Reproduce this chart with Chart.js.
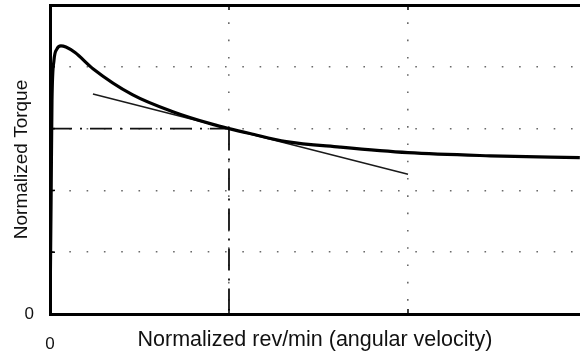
<!DOCTYPE html>
<html>
<head>
<meta charset="utf-8">
<script src="https://cdn.jsdelivr.net/npm/chart.js@4/dist/chart.umd.min.js"></script>
<style>
  html, body { margin: 0; padding: 0; background: #fff; overflow: hidden; }
  #wrap { width: 580px; height: 358px; position: relative; }
</style>
</head>
<body>
<div id="wrap"><canvas id="c" width="580" height="358"></canvas></div>
<script>
// ---- data ----
const curveX = [0, 0.006, 0.011, 0.022, 0.039, 0.061, 0.089, 0.14, 0.24, 0.46, 0.69, 0.91, 1.0, 1.117, 1.32, 1.62, 2.0, 2.46, 2.96];
const curveY = [0, 1.84, 3.45, 4.10, 4.29, 4.34, 4.32, 4.23, 3.97, 3.55, 3.27, 3.068, 3.00, 2.92, 2.79, 2.70, 2.61, 2.56, 2.53];
const tangentX = [0.24, 2.0];
const tangentY = [3.56, 2.26];
const refHX = [0, 1];
const refHY = [3, 3];
const refVX = [1, 1];
const refVY = [3, 0];
const xTickLabels = ['0'];
const yTickLabels = ['0'];
const xGridValues = [1, 2];
const yGridValues = [1, 2, 3, 4];
const xTitle = 'Normalized rev/min (angular velocity)';
const yTitle = 'Normalized Torque';

const toPts = (xs, ys) => xs.map((x, i) => ({ x: x, y: ys[i] }));

const innerTicks = {
  id: 'innerTicks',
  afterDatasetsDraw(chart) {
    const { ctx, chartArea, scales } = chart;
    const x = scales.x, y = scales.y;
    ctx.save();
    ctx.strokeStyle = '#000';
    ctx.lineWidth = 1.5;
    yGridValues.forEach(v => {
      const py = y.getPixelForValue(v);
      ctx.beginPath(); ctx.moveTo(chartArea.left, py); ctx.lineTo(chartArea.left + 5, py); ctx.stroke();
    });
    xGridValues.forEach(v => {
      const px = x.getPixelForValue(v);
      ctx.beginPath(); ctx.moveTo(px, chartArea.bottom); ctx.lineTo(px, chartArea.bottom - 5); ctx.stroke();
      ctx.beginPath(); ctx.moveTo(px, chartArea.top); ctx.lineTo(px, chartArea.top + 5); ctx.stroke();
    });
    ctx.restore();
  }
};

const gridColor = (ctx) => (ctx.tick && ctx.tick.value > 0 && ctx.tick.value < 4.99) ? '#6a6a6a' : 'rgba(0,0,0,0)';

new Chart(document.getElementById('c'), {
  type: 'line',
  data: {
    datasets: [
      { data: toPts(curveX, curveY), borderColor: '#000', borderWidth: 3.2, pointRadius: 0, cubicInterpolationMode: 'monotone', fill: false },
      { data: toPts(tangentX, tangentY), borderColor: '#1a1a1a', borderWidth: 1.5, pointRadius: 0, tension: 0, fill: false },
      { data: toPts(refHX, refHY), borderColor: '#111', borderWidth: 1.8, borderDash: [22, 8, 2, 8], pointRadius: 0, tension: 0, fill: false },
      { data: toPts(refVX, refVY), borderColor: '#111', borderWidth: 1.8, borderDash: [22, 8, 2, 8], pointRadius: 0, tension: 0, fill: false }
    ]
  },
  options: {
    responsive: false,
    animation: false,
    events: [],
    layout: { padding: { top: 5, right: 0, bottom: 0, left: 0 } },
    plugins: { legend: { display: false }, tooltip: { enabled: false } },
    scales: {
      x: {
        type: 'linear',
        position: 'bottom',
        min: 0,
        max: 2.961,
        afterFit: (s) => { s.height = 44; s.paddingLeft = 0; s.paddingRight = 0; },
        ticks: {
          stepSize: 1,
          includeBounds: false,
          padding: 20,
          color: '#111',
          font: { family: 'Liberation Sans', size: 17 },
          maxRotation: 0,
          callback: (v) => (v === 0 ? xTickLabels[0] : '')
        },
        grid: { drawTicks: false, color: gridColor, lineWidth: 1.6 },
        border: { display: true, color: '#000', width: 3, dash: [1.6, 15.7] },
        title: { display: true, text: xTitle, color: '#111', font: { family: 'Liberation Sans', size: 21.5 }, padding: { top: 0, bottom: 5 } }
      },
      x2: {
        type: 'linear',
        position: 'top',
        min: 0,
        max: 2.961,
        afterFit: (s) => { s.height = 0; s.paddingLeft = 0; s.paddingRight = 0; },
        ticks: { display: false },
        grid: { display: false, drawTicks: false },
        border: { display: true, color: '#000', width: 3 }
      },
      y: {
        type: 'linear',
        position: 'left',
        min: 0,
        max: 5,
        afterFit: (s) => { s.width = 50; s.paddingTop = 0; s.paddingBottom = 0; },
        ticks: {
          stepSize: 1,
          padding: 16,
          color: '#111',
          font: { family: 'Liberation Sans', size: 17 },
          callback: (v) => (v === 0 ? yTickLabels[0] : '')
        },
        grid: { drawTicks: false, color: gridColor, lineWidth: 1.6 },
        border: { display: true, color: '#000', width: 3, dash: [1.6, 15.7] },
        title: { display: true, text: yTitle, color: '#111', font: { family: 'Liberation Sans', size: 19 }, padding: { top: 10, bottom: 0 } }
      }
    }
  },
  plugins: [innerTicks]
});
</script>
</body>
</html>
